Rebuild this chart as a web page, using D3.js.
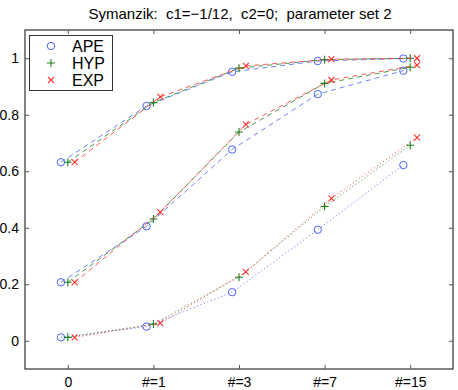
<!DOCTYPE html>
<html>
<head>
<meta charset="utf-8">
<script src="https://cdn.jsdelivr.net/npm/d3@7"></script>
<style>
  body { margin: 0; background: #fff; }
  text { font-family: "Liberation Sans", Arial, sans-serif; }
</style>
</head>
<body>
<div id="chart"></div>
<script>
// categories along x
const ticks = ["0", "#=1", "#=3", "#=7", "#=15"];
const methods = ["APE", "HYP", "EXP"];
const offsets = [-0.08, 0, 0.08];

// top group (dashed)
const apeTop = [0.632, 0.831, 0.952, 0.990, 0.999];
const hypTop = [0.632, 0.843, 0.965, 0.995, 1.000];
const expTop = [0.632, 0.863, 0.973, 0.997, 1.000];
// middle group (dashed)
const apeMid = [0.207, 0.405, 0.677, 0.873, 0.956];
const hypMid = [0.207, 0.431, 0.739, 0.911, 0.968];
const expMid = [0.207, 0.455, 0.766, 0.923, 0.976];
// bottom group (dotted)
const apeLow = [0.012, 0.050, 0.172, 0.393, 0.622];
const hypLow = [0.012, 0.059, 0.225, 0.475, 0.692];
const expLow = [0.012, 0.062, 0.244, 0.504, 0.719];

const yTicks = [0, 0.2, 0.4, 0.6, 0.8, 1];

const colors = {APE: "#4a63ff", HYP: "#1e801e", EXP: "#ff3030"};

const W = 458, H = 390;
const margin = {top: 30, right: 5, bottom: 21, left: 25};

const svg = d3.select("#chart").append("svg")
  .attr("width", W).attr("height", H);

const x = d3.scaleLinear().domain([-0.5, 4.5]).range([margin.left, W - margin.right]);
const y = d3.scaleLinear().domain([-0.1, 1.1]).range([H - margin.bottom, margin.top]);

// frame
svg.append("rect")
  .attr("x", x(-0.5)).attr("y", y(1.1))
  .attr("width", x(4.5) - x(-0.5)).attr("height", y(-0.1) - y(1.1))
  .attr("fill", "none").attr("stroke", "#333").attr("stroke-width", 1.2);

// axes
const xAxis = d3.axisBottom(x).tickValues([0, 1, 2, 3, 4])
  .tickFormat(i => ticks[i]).tickSize(-4).tickPadding(8);
const gx = svg.append("g").attr("transform", `translate(0,${y(-0.1)})`).call(xAxis);
const gxTop = svg.append("g").attr("transform", `translate(0,${y(1.1)})`)
  .call(d3.axisTop(x).tickValues([0, 1, 2, 3, 4]).tickFormat("").tickSize(-4));
const yAxis = d3.axisLeft(y).tickValues(yTicks).tickFormat(d3.format("~g")).tickSize(-4).tickPadding(6);
const gy = svg.append("g").attr("transform", `translate(${x(-0.5)},0)`).call(yAxis);
const gyR = svg.append("g").attr("transform", `translate(${x(4.5)},0)`)
  .call(d3.axisRight(y).tickValues(yTicks).tickFormat("").tickSize(-4));

[gx, gxTop, gy, gyR].forEach(g => {
  g.select(".domain").remove();
  g.selectAll(".tick line").attr("stroke", "#555");
  g.selectAll("text").attr("font-size", 14).attr("fill", "#000");
});

// title
svg.append("text")
  .attr("x", 240).attr("y", 19)
  .attr("text-anchor", "middle")
  .attr("font-size", 15)
  .style("white-space", "pre")
  .text("Symanzik:  c1=\u22121/12,  c2=0;  parameter set 2");

const groups = [
  {dash: "5,4", series: [apeTop, hypTop, expTop]},
  {dash: "5,4", series: [apeMid, hypMid, expMid]},
  {dash: "1.2,2.5", series: [apeLow, hypLow, expLow]}
];

const line = off => d3.line().x((d, i) => x(i + off)).y(d => y(d));

function marker(g, m, cx, cy) {
  const c = colors[m];
  if (m === "APE") {
    g.append("circle").attr("cx", cx).attr("cy", cy).attr("r", 3.7)
      .attr("fill", "none").attr("stroke", c).attr("stroke-width", 1);
  } else if (m === "HYP") {
    g.append("path").attr("d", `M${cx - 4},${cy}H${cx + 4}M${cx},${cy - 4}V${cy + 4}`)
      .attr("stroke", c).attr("stroke-width", 1.1);
  } else {
    g.append("path").attr("d", `M${cx - 3},${cy - 3}L${cx + 3},${cy + 3}M${cx - 3},${cy + 3}L${cx + 3},${cy - 3}`)
      .attr("stroke", c).attr("stroke-width", 1.1);
  }
}

const plot = svg.append("g");
groups.forEach(grp => {
  grp.series.forEach((vals, k) => {
    const m = methods[k];
    plot.append("path").datum(vals)
      .attr("d", line(offsets[k]))
      .attr("fill", "none").attr("stroke", colors[m])
      .attr("stroke-width", 0.8).attr("stroke-dasharray", grp.dash);
    vals.forEach((v, i) => marker(plot, m, x(i + offsets[k]), y(v)));
  });
});

// legend
const lg = svg.append("g");
lg.append("rect").attr("x", 29.5).attr("y", 35.5).attr("width", 83).attr("height", 55)
  .attr("fill", "#fff").attr("stroke", "#333").attr("stroke-width", 1);
methods.forEach((m, k) => {
  const ly = 46 + k * 17;
  marker(lg, m, 51, ly);
  lg.append("text").attr("x", 72).attr("y", ly + 6).attr("font-size", 16).text(m);
});
</script>
</body>
</html>
